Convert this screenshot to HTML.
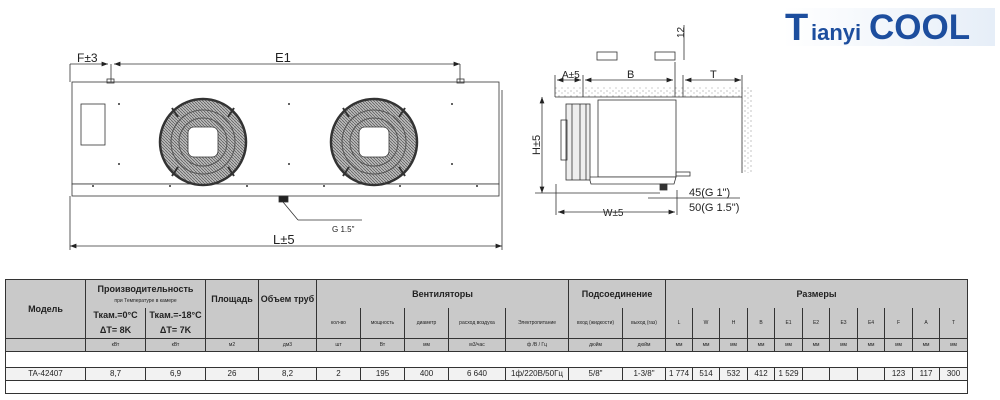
<!DOCTYPE html>
<html><head><meta charset="utf-8"><style>
body{margin:0;width:1000px;height:400px;background:#fff;position:relative;overflow:hidden;font-family:"Liberation Sans",sans-serif}
svg{position:absolute;left:0;top:0}
table{position:absolute;left:5px;top:279px;border-collapse:collapse;table-layout:fixed;width:962px;font-family:"Liberation Sans",sans-serif}
td{border:1px solid #333;text-align:center;vertical-align:middle;padding:0;overflow:hidden;white-space:nowrap;color:#222}
.h td{background:#c9c9c9}
.b{font-weight:bold;font-size:9px}
.s{font-size:5px}
.u td{background:#c9c9c9;font-size:5px;height:12px}
.d td{background:#f2f2f2;font-size:8px;height:12px}
.logo{position:absolute;left:783px;top:8px;width:212px;height:38px;background:linear-gradient(90deg,#fff,#e6eef8);}
.logo span{position:absolute;color:#1d4e9e;font-weight:bold;font-family:"Liberation Sans",sans-serif}
</style></head><body>
<svg width="1000" height="400" viewBox="0 0 1000 400">
<defs><marker id="a" markerWidth="8" markerHeight="6" refX="8" refY="3" orient="auto-start-reverse"><path d="M0,0 L8,3 L0,6 z" fill="#222"/></marker>
<pattern id="dots" width="6" height="5" patternUnits="userSpaceOnUse"><circle cx="1" cy="1" r="0.6" fill="#999"/><circle cx="4" cy="3" r="0.6" fill="#aaa"/></pattern>
<pattern id="hatch" width="3" height="3" patternUnits="userSpaceOnUse"><rect width="3" height="3" fill="#bbb"/><path d="M0,0 L3,3" stroke="#555" stroke-width="0.7"/></pattern></defs>
<g stroke="#333" fill="none" stroke-width="0.8">
<rect x="72" y="82" width="427" height="102" fill="#fff"/>
<rect x="72" y="184" width="427" height="12" fill="#fff"/>
<line x1="70" y1="64" x2="70" y2="82"/>
<line x1="111" y1="64" x2="111" y2="82"/>
<line x1="460" y1="64" x2="460" y2="82"/>
<line x1="70" y1="64" x2="108" y2="64" marker-end="url(#a)"/>
<line x1="114" y1="64" x2="460" y2="64" marker-start="url(#a)" marker-end="url(#a)"/>
<line x1="70" y1="196" x2="70" y2="250"/>
<line x1="502" y1="90" x2="502" y2="250"/>
<line x1="70" y1="246" x2="502" y2="246" marker-start="url(#a)" marker-end="url(#a)"/>
<rect x="107" y="79" width="7" height="4"/>
<rect x="457" y="79" width="7" height="4"/>
<rect x="81" y="104" width="24" height="41"/>
<g id="fan">
<circle cx="203" cy="142" r="43" fill="url(#hatch)" stroke="#333" stroke-width="2.5"/>
<circle cx="203" cy="142" r="32" stroke="#555" stroke-width="1"/>
<circle cx="203" cy="142" r="24" stroke="#555" stroke-width="1"/>
<rect x="188" y="127" width="30" height="30" rx="6" fill="#fff"/>
<line x1="178" y1="117" x2="172" y2="108" stroke-width="2"/>
<line x1="228" y1="117" x2="234" y2="108" stroke-width="2"/>
<line x1="178" y1="167" x2="172" y2="176" stroke-width="2"/>
<line x1="228" y1="167" x2="234" y2="176" stroke-width="2"/>
</g>
<use href="#fan" x="171"/>
<g fill="#333" stroke="none"><circle cx="119" cy="104" r="1"/><circle cx="119" cy="164" r="1"/><circle cx="289" cy="104" r="1"/><circle cx="289" cy="164" r="1"/><circle cx="452" cy="104" r="1"/><circle cx="452" cy="164" r="1"/><circle cx="93" cy="186" r="1"/><circle cx="170" cy="186" r="1"/><circle cx="247" cy="186" r="1"/><circle cx="324" cy="186" r="1"/><circle cx="400" cy="186" r="1"/><circle cx="477" cy="186" r="1"/></g>
<rect x="279" y="196" width="9" height="6" fill="#222"/>
<line x1="283" y1="202" x2="298" y2="220"/>
<line x1="298" y1="220" x2="362" y2="220"/>
<rect x="555" y="87" width="197" height="10" fill="url(#dots)" stroke="none"/>
<line x1="555" y1="97" x2="742" y2="97"/>
<rect x="742" y="87" width="10" height="86" fill="url(#dots)" stroke="none"/>
<line x1="742" y1="97" x2="742" y2="173"/>
<rect x="598" y="100" width="78" height="77" fill="#fff"/>
<path d="M589,177 L676,177 L674,184 L591,184 z" fill="#fff"/>
<rect x="566" y="104" width="24" height="76" fill="#eee"/>
<line x1="572" y1="104" x2="572" y2="180"/><line x1="580" y1="104" x2="580" y2="180"/><line x1="586" y1="104" x2="586" y2="180"/>
<rect x="561" y="120" width="6" height="40"/>
<rect x="676" y="172" width="14" height="4"/>
<rect x="660" y="184" width="7" height="6" fill="#333"/>
<line x1="555" y1="75" x2="555" y2="97"/><line x1="583" y1="75" x2="583" y2="97"/><line x1="675" y1="62" x2="675" y2="97"/><line x1="742" y1="75" x2="742" y2="97"/><line x1="683" y1="75" x2="683" y2="97"/>
<line x1="557" y1="80" x2="581" y2="80" marker-start="url(#a)" marker-end="url(#a)"/>
<line x1="585" y1="80" x2="673" y2="80" marker-start="url(#a)" marker-end="url(#a)"/>
<line x1="685" y1="80" x2="741" y2="80" marker-start="url(#a)" marker-end="url(#a)"/>
<line x1="542" y1="97" x2="542" y2="193" marker-start="url(#a)" marker-end="url(#a)"/>
<line x1="535" y1="193" x2="660" y2="193"/>
<line x1="556" y1="184" x2="556" y2="215"/><line x1="677" y1="190" x2="677" y2="215"/>
<line x1="558" y1="212" x2="675" y2="212" marker-start="url(#a)" marker-end="url(#a)"/>
<line x1="648" y1="198" x2="740" y2="198"/>
<line x1="684" y1="25" x2="684" y2="60"/>
<rect x="597" y="52" width="20" height="8" fill="#fff"/><rect x="655" y="52" width="20" height="8" fill="#fff"/>
</g>
<g font-family="Liberation Sans" fill="#222">
<text x="77" y="62" font-size="12">F±3</text>
<text x="275" y="62" font-size="13">E1</text>
<text x="273" y="244" font-size="13">L±5</text>
<text x="332" y="232" font-size="8">G 1.5"</text>
<text x="562" y="78" font-size="10">A±5</text>
<text x="627" y="78" font-size="11">B</text>
<text x="710" y="78" font-size="11">T</text>
<text x="603" y="216" font-size="10">W±5</text>
<text x="689" y="196" font-size="11">45(G 1")</text>
<text x="689" y="211" font-size="11">50(G 1.5")</text>
<text x="0" y="0" font-size="11" transform="translate(540,155) rotate(-90)">H±5</text>
<text x="0" y="0" font-size="10" transform="translate(684,38) rotate(-90)">12</text>
</g>
</svg>
<div class="logo"><span style="left:2px;top:-1px;font-size:38px;">T</span><span style="left:28px;top:12px;font-size:22px;">ianyi</span><span style="left:86px;top:0px;font-size:35px;">COOL</span></div>
<table>
<colgroup><col style="width:80px"><col style="width:60px"><col style="width:60px"><col style="width:53px"><col style="width:58px"><col style="width:44px"><col style="width:44px"><col style="width:44px"><col style="width:57px"><col style="width:63px"><col style="width:54px"><col style="width:43px">
<col style="width:27px"><col style="width:27px"><col style="width:28px"><col style="width:27px"><col style="width:28px"><col style="width:27px"><col style="width:28px"><col style="width:27px"><col style="width:28px"><col style="width:27px"><col style="width:28px"></colgroup>
<tr class="h" style="height:28px"><td rowspan="2" class="b">Модель</td><td colspan="2" class="b" style="border-bottom:none">Производительность<br><span class="s" style="font-weight:normal">при Температуре в камере</span></td><td rowspan="2" class="b" style="vertical-align:top;padding-top:14px">Площадь</td><td rowspan="2" class="b" style="vertical-align:top;padding-top:14px">Объем труб</td><td colspan="5" class="b" style="border-bottom:none">Вентиляторы</td><td colspan="2" class="b" style="border-bottom:none">Подсоединение</td><td colspan="11" class="b" style="border-bottom:none">Размеры</td></tr>
<tr class="h" style="height:30px"><td class="b" style="border-top:none;line-height:15px">Ткам.=0°C<br>ΔT= 8K</td><td class="b" style="border-top:none;line-height:15px">Ткам.=-18°C<br>ΔT= 7K</td>
<td class="s" style="border-top:none">кол-во</td><td class="s" style="border-top:none">мощность</td><td class="s" style="border-top:none">диаметр</td><td class="s" style="border-top:none">расход воздуха</td><td class="s" style="border-top:none">Электропитание</td><td class="s" style="border-top:none">вход (жидкости)</td><td class="s" style="border-top:none">выход (газ)</td>
<td class="s" style="border-top:none">L</td><td class="s" style="border-top:none">W</td><td class="s" style="border-top:none">H</td><td class="s" style="border-top:none">B</td><td class="s" style="border-top:none">E1</td><td class="s" style="border-top:none">E2</td><td class="s" style="border-top:none">E3</td><td class="s" style="border-top:none">E4</td><td class="s" style="border-top:none">F</td><td class="s" style="border-top:none">A</td><td class="s" style="border-top:none">T</td></tr>
<tr class="u"><td></td><td>кВт</td><td>кВт</td><td>м2</td><td>дм3</td><td>шт</td><td>Вт</td><td>мм</td><td>м3/час</td><td>ф /В / Гц</td><td>дюйм</td><td>дюйм</td><td>мм</td><td>мм</td><td>мм</td><td>мм</td><td>мм</td><td>мм</td><td>мм</td><td>мм</td><td>мм</td><td>мм</td><td>мм</td></tr>
<tr style="height:16px"><td colspan="23"></td></tr>
<tr class="d"><td>TA-42407</td><td>8,7</td><td>6,9</td><td>26</td><td>8,2</td><td>2</td><td>195</td><td>400</td><td>6 640</td><td>1ф/220В/50Гц</td><td>5/8"</td><td>1-3/8"</td><td>1 774</td><td>514</td><td>532</td><td>412</td><td>1 529</td><td></td><td></td><td></td><td>123</td><td>117</td><td>300</td></tr>
<tr style="height:13px"><td colspan="23"></td></tr>
</table>
</body></html>
